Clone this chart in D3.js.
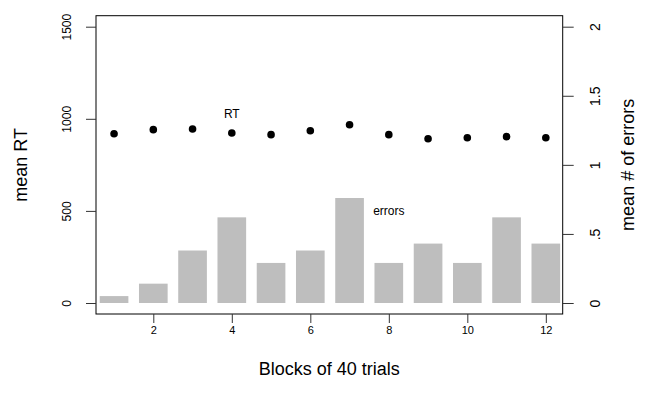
<!DOCTYPE html>
<html>
<head>
<meta charset="utf-8">
<script src="https://cdn.jsdelivr.net/npm/d3@7"></script>
<style>
  body { margin: 0; background: #fff; }
  svg { font-family: "Liberation Sans", Arial, sans-serif; }
  .axis text { fill: #000; }
  .axis line { stroke: #333; }
</style>
</head>
<body>
<div id="chart"></div>
<script>
// Data
var blocks = [1, 2, 3, 4, 5, 6, 7, 8, 9, 10, 11, 12];
var meanRT = [919, 941, 945, 923, 914, 935, 968, 914, 892, 897, 903, 897];
var meanErrors = [0.05, 0.14, 0.38, 0.62, 0.29, 0.38, 0.76, 0.29, 0.43, 0.29, 0.62, 0.43];

// Ticks
var blockTicks = [2, 4, 6, 8, 10, 12];
var rtTicks = [0, 500, 1000, 1500];
var errTicks = [0, 0.5, 1, 1.5, 2];
var errTickLabels = ["0", ".5", "1", "1.5", "2"];

// Size
var width = 651,
    height = 401;

// Plot box
var box = { left: 96, right: 562.7, top: 15.7, bottom: 314 };

var svg = d3.select("#chart").append("svg")
  .attr("width", width)
  .attr("height", height);

// Scales
var x = d3.scaleLinear()
  .domain([0.54, 12.43])
  .range([box.left, box.right]);

var yRT = d3.scaleLinear()
  .domain([0, 1500])
  .range([303, 26.7]);

var yErr = d3.scaleLinear()
  .domain([0, 2])
  .range([303, 26.7]);

var barHalf = 0.365;

// Error bars
svg.append("g")
  .selectAll("rect")
  .data(blocks).enter()
  .append("rect")
    .attr("x", function(d) { return x(d - barHalf); })
    .attr("width", function(d) { return x(d + barHalf) - x(d - barHalf); })
    .attr("y", function(d, i) { return yErr(meanErrors[i]); })
    .attr("height", function(d, i) { return yErr(0) - yErr(meanErrors[i]); })
    .attr("fill", "#bebebe");

// RT points
svg.append("g")
  .selectAll("circle")
  .data(blocks).enter()
  .append("circle")
    .attr("cx", function(d) { return x(d); })
    .attr("cy", function(d, i) { return yRT(meanRT[i]); })
    .attr("r", 3.8)
    .attr("fill", "#000");

// Series labels
svg.append("text")
  .attr("x", x(4))
  .attr("y", yRT(1025))
  .attr("dy", "0.35em")
  .attr("text-anchor", "middle")
  .style("font-size", "12px")
  .text("RT");

svg.append("text")
  .attr("x", x(8))
  .attr("y", yErr(0.67))
  .attr("dy", "0.35em")
  .attr("text-anchor", "middle")
  .style("font-size", "12px")
  .text("errors");

// Box
svg.append("rect")
  .attr("x", box.left)
  .attr("y", box.top)
  .attr("width", box.right - box.left)
  .attr("height", box.bottom - box.top)
  .attr("fill", "none")
  .attr("stroke", "#000")
  .attr("stroke-width", 1);

// Bottom axis
var xAxis = svg.append("g")
  .attr("class", "axis")
  .attr("transform", "translate(0," + box.bottom + ")")
  .call(d3.axisBottom(x).tickValues(blockTicks).tickSize(9).tickFormat(d3.format("d")));
xAxis.select(".domain").remove();
xAxis.selectAll("text")
  .attr("y", 20)
  .attr("dy", 0)
  .style("font-size", "11px");

// Left axis
var leftAxis = svg.append("g")
  .attr("class", "axis")
  .attr("transform", "translate(" + box.left + ",0)")
  .call(d3.axisLeft(yRT).tickValues(rtTicks).tickSize(10).tickFormat(d3.format("d")));
leftAxis.select(".domain").remove();
leftAxis.selectAll("text")
  .attr("x", 0)
  .attr("dy", 0)
  .attr("text-anchor", "middle")
  .attr("transform", "translate(-25.5,0) rotate(-90)")
  .style("font-size", "12px");

// Right axis
var rightAxis = svg.append("g")
  .attr("class", "axis")
  .attr("transform", "translate(" + box.right + ",0)")
  .call(d3.axisRight(yErr).tickValues(errTicks).tickSize(11)
    .tickFormat(function(d, i) { return errTickLabels[i]; }));
rightAxis.select(".domain").remove();
rightAxis.selectAll("text")
  .attr("x", 0)
  .attr("dy", 0)
  .attr("text-anchor", "middle")
  .attr("transform", "translate(37,0) rotate(-90)")
  .style("font-size", "14px");

// Axis titles
var midY = (box.top + box.bottom) / 2;

svg.append("text")
  .attr("text-anchor", "middle")
  .attr("transform", "translate(27," + midY + ") rotate(-90)")
  .style("font-size", "18px")
  .text("mean RT");

svg.append("text")
  .attr("text-anchor", "middle")
  .attr("transform", "translate(634," + midY + ") rotate(-90)")
  .style("font-size", "18px")
  .text("mean # of errors");

svg.append("text")
  .attr("x", (box.left + box.right) / 2)
  .attr("y", 375)
  .attr("text-anchor", "middle")
  .style("font-size", "18px")
  .text("Blocks of 40 trials");
</script>
</body>
</html>
